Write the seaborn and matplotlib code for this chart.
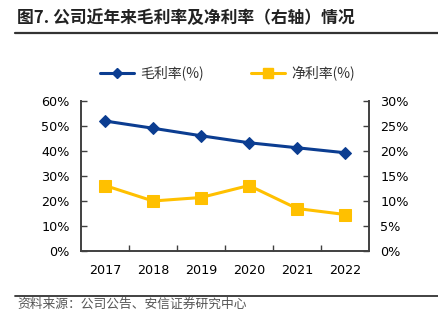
import matplotlib
matplotlib.use("Agg")
import matplotlib.pyplot as plt
import matplotlib.lines as mlines
from matplotlib.ticker import FuncFormatter, FixedLocator
import seaborn as sns
import pandas as pd

# Data
years = ["2017", "2018", "2019", "2020", "2021", "2022"]
gross_margin = [52.0, 49.1, 46.1, 43.3, 41.3, 39.3]   # 毛利率 (%), left axis
net_margin = [13.1, 10.0, 10.7, 13.1, 8.5, 7.3]       # 净利率 (%), right axis

title_text = "图7. 公司近年来毛利率及净利率（右轴）情况"
source_text = "资料来源：公司公告、安信证券研究中心"
gross_label = "毛利率(%)"
net_label = "净利率(%)"

sns.set_theme(style="white")
plt.rcParams["font.family"] = ["Noto Sans CJK SC", "DejaVu Sans"]

BLUE = "#0B3D91"
GOLD = "#FFC000"
SPINE = "#404040"

df = pd.DataFrame({"year": years, "gross": gross_margin, "net": net_margin})
df["pos"] = range(len(years))

fig = plt.figure(figsize=(4.38, 3.25), dpi=100)
ax = fig.add_axes([81 / 438, 74 / 325, 288 / 438, 150 / 325])
ax2 = ax.twinx()

sns.lineplot(data=df, x="pos", y="gross", ax=ax, color=BLUE, linewidth=2.2,
             marker="D", markersize=6, markeredgecolor=BLUE, legend=False)
sns.lineplot(data=df, x="pos", y="net", ax=ax2, color=GOLD, linewidth=2.2,
             marker="s", markersize=9, markeredgecolor=GOLD, legend=False)

ax.set_xlim(-0.5, len(years) - 0.5)
ax.set_ylim(0, 60)
ax2.set_ylim(0, 30)
ax.set_yticks(range(0, 61, 10))
ax2.set_yticks(range(0, 31, 5))
pct = FuncFormatter(lambda v, _: f"{v:.0f}%")
ax.yaxis.set_major_formatter(pct)
ax2.yaxis.set_major_formatter(pct)

# Year labels centred in each band, ticks at the band boundaries
ax.xaxis.set_major_locator(FixedLocator([i + 0.5 for i in range(len(years) - 1)]))
ax.xaxis.set_major_formatter(FuncFormatter(lambda v, _: ""))
ax.xaxis.set_minor_locator(FixedLocator(list(range(len(years)))))
ax.set_xticklabels(years, minor=True)
ax.tick_params(axis="x", which="major", direction="in", length=4, width=1,
               color=SPINE, bottom=True)
ax.tick_params(axis="x", which="minor", length=0, pad=9, labelsize=9.2,
               labelcolor="black")
ax.set_xlabel("")
ax.set_ylabel("")
ax2.set_ylabel("")

for a in (ax, ax2):
    for side, sp in a.spines.items():
        sp.set_color(SPINE)
        sp.set_linewidth(1.4)
    a.spines["top"].set_visible(False)
    a.grid(False)

ax.spines["right"].set_visible(False)
ax2.spines["left"].set_visible(False)
ax2.spines["bottom"].set_visible(False)
ax.tick_params(axis="y", direction="in", length=4, width=1, color=SPINE,
               left=True, labelsize=9.2, pad=8, labelcolor="black")
ax2.tick_params(axis="y", direction="in", length=4, width=1, color=SPINE,
                right=True, labelsize=9.2, pad=8, labelcolor="black")
for lbl in ax.get_yticklabels() + ax2.get_yticklabels() + ax.get_xticklabels(minor=True):
    lbl.set_family("DejaVu Sans")

# Legend above the plot
h1 = mlines.Line2D([], [], color=BLUE, linewidth=2.2, marker="D", markersize=5)
h2 = mlines.Line2D([], [], color=GOLD, linewidth=2.2, marker="s", markersize=7)
fig.legend([h1, h2], [gross_label, net_label], loc="center",
           bbox_to_anchor=(0.52, 1 - 73 / 325), ncol=2, frameon=False,
           fontsize=10, handlelength=2.4, columnspacing=3.4, handletextpad=0.5,
           labelcolor="#333333")

# Title and source with rules
fig.text(17 / 438, 1 - 18 / 325, title_text, fontsize=12.1, fontweight="bold",
         color="#222222", va="center", ha="left")
fig.add_artist(mlines.Line2D([15 / 438, 1.0], [1 - 32.5 / 325] * 2,
                             color="#333333", linewidth=1.6))
fig.add_artist(mlines.Line2D([15 / 438, 1.0], [1 - 296 / 325] * 2,
                             color="#333333", linewidth=1.3))
fig.text(17 / 438, 1 - 304 / 325, source_text, fontsize=9.2, color="#555555",
         va="center", ha="left", style="italic")

fig.savefig("out.png", dpi=100, facecolor="white")
